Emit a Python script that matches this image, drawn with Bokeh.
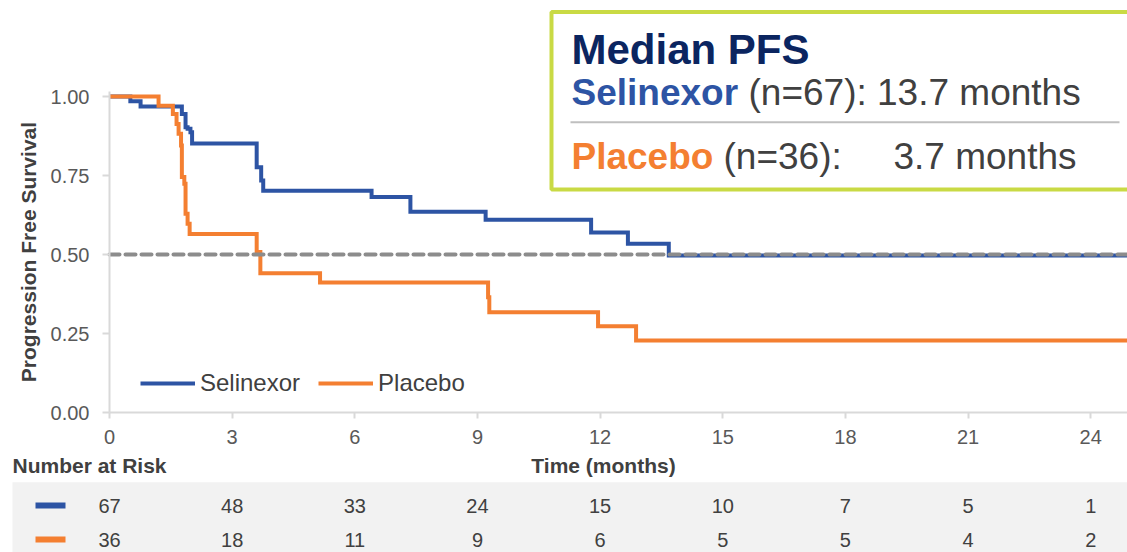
from bokeh.plotting import figure
from bokeh.models import (Range1d, FixedTicker, BoxAnnotation, Label,
                          Legend, LegendItem, CustomJSTickFormatter)
from bokeh.core.properties import value
from bokeh.embed import file_html
from bokeh.resources import INLINE

# ---------------- data ----------------
series_names = ["Selinexor", "Placebo"]
series_colors = ["#2d54a4", "#f47f31"]
n_patients = [67, 36]
median_pfs = [13.7, 3.7]

sel_time = [0, 0.51, 0.76, 1.77, 1.86, 1.91, 1.98, 2.02, 3.60, 3.71, 3.76,
            6.41, 7.36, 9.20, 11.78, 12.68, 13.68, 25.5]
sel_surv = [1.0, 0.985, 0.968, 0.945, 0.903, 0.898, 0.887, 0.851, 0.776, 0.734, 0.702,
            0.682, 0.635, 0.610, 0.570, 0.534, 0.497, 0.497]

pbo_time = [0, 1.20, 1.55, 1.64, 1.69, 1.75, 1.77, 1.83, 1.86, 1.91, 1.96,
            3.60, 3.69, 5.15, 9.26, 9.29, 11.95, 12.88, 25.5]
pbo_surv = [1.0, 0.971, 0.945, 0.913, 0.882, 0.845, 0.745, 0.724, 0.629, 0.597, 0.565,
            0.508, 0.441, 0.411, 0.365, 0.317, 0.273, 0.228, 0.228]

median_level = 0.5

risk_times = [0, 3, 6, 9, 12, 15, 18, 21, 24]
risk_sel = [67, 48, 33, 24, 15, 10, 7, 5, 1]
risk_pbo = [36, 18, 11, 9, 6, 5, 5, 4, 2]

x_ticks = [0, 3, 6, 9, 12, 15, 18, 21, 24]
y_ticks = [0.0, 0.25, 0.5, 0.75, 1.0]
y_tick_labels = ["0.00", "0.25", "0.50", "0.75", "1.00"]

# ---------------- layout constants (pixel geometry of the canvas) ----------------
FONT = "Liberation Sans"
TXT = "#404040"
AX = "#d9d9d9"
W, H = 1127, 552
X0_PX = 109            # canvas x of time 0
Y0_PX = 412            # canvas y of survival 0
X_END = 24.9
PPM = (W - X0_PX) / X_END      # pixels per month
PPU = 316.0                    # pixels per survival unit
ROW0_PX, ROW_PX = 505.0, 34.0  # number-at-risk rows


def ax_(ix):
    return (ix - X0_PX) / PPM


def ay_(iy):
    return (Y0_PX - iy) / PPU


def ry_(iy):
    return (iy - ROW0_PX) / ROW_PX


p = figure(width=W, height=H, output_backend="svg", toolbar_location=None,
           x_range=Range1d(ax_(0), ax_(W)), y_range=Range1d(ay_(H), ay_(0)),
           min_border_left=0, min_border_right=0, min_border_top=0, min_border_bottom=0)
p.extra_y_ranges = {"risk": Range1d(ry_(H), ry_(0))}
p.outline_line_color = None
p.grid.grid_line_color = None
p.background_fill_color = "white"

# ---------------- KM curves ----------------
r_sel = p.step(sel_time, sel_surv, mode="after", line_color=series_colors[0],
               line_width=4, line_join="miter")
r_pbo = p.step(pbo_time, pbo_surv, mode="after", line_color=series_colors[1],
               line_width=4, line_join="miter")
p.line(x=[0, X_END + 1], y=[median_level, median_level], line_color="#8c8c8c",
       line_width=4, line_dash="10 6", line_cap="round")

# ---------------- axes ----------------
for axis in (p.xaxis[0], p.yaxis[0]):
    axis.fixed_location = 0
    axis.axis_line_color = AX
    axis.axis_line_width = 2
    axis.major_tick_line_color = AX
    axis.major_tick_line_width = 2
    axis.major_tick_in = 0
    axis.minor_tick_line_color = None
    axis.major_label_text_font = FONT
    axis.major_label_text_font_size = "20px"
    axis.major_label_text_color = "#595959"

p.xaxis.ticker = FixedTicker(ticks=x_ticks)
p.xaxis.bounds = (0, X_END + 1)
p.xaxis.major_tick_out = 6
p.xaxis.major_label_standoff = 11

p.yaxis.ticker = FixedTicker(ticks=y_ticks)
p.yaxis.bounds = (0, 1.015)
p.yaxis.major_tick_out = 7
p.yaxis.major_label_standoff = 13
p.yaxis.formatter = CustomJSTickFormatter(args=dict(tick_vals=y_ticks, tick_labels=y_tick_labels), code="""
    const i = tick_vals.findIndex(t => Math.abs(t - tick) < 1e-9);
    return i >= 0 ? tick_labels[i] : '';
""")
p.yaxis.axis_label = "Progression Free Survival"
p.yaxis.axis_label_text_font = FONT
p.yaxis.axis_label_text_font_size = "21px"
p.yaxis.axis_label_text_font_style = "bold"
p.yaxis.axis_label_text_color = TXT
p.yaxis.axis_label_standoff = 8

legend = Legend(items=[LegendItem(label=series_names[0], renderers=[r_sel]),
                       LegendItem(label=series_names[1], renderers=[r_pbo])],
                orientation="horizontal", location=(140, H - 385 - 12),
                glyph_width=55, glyph_height=24, label_height=24,
                label_standoff=5, spacing=18, padding=0, margin=0,
                background_fill_alpha=0, border_line_alpha=0,
                label_text_font=FONT, label_text_font_size="24px",
                label_text_color=TXT)
p.add_layout(legend)

# ---------------- Median PFS box ----------------
p.add_layout(BoxAnnotation(left=ax_(551), right=ax_(W + 20), top=ay_(11.5), bottom=ay_(189),
                           fill_color="white", fill_alpha=1.0,
                           line_color="#c9da44", line_alpha=1.0, line_width=4))
p.add_layout(BoxAnnotation(left=ax_(570), right=ax_(1119), top=ay_(120.7), bottom=ay_(122.7),
                           fill_color="#bfbfbf", fill_alpha=1.0, line_color=None))


def add_text(ix, iy_base, text, size, color, bold=False):
    # iy_base: wanted canvas y of the text baseline
    shift = 0.33 * size
    p.add_layout(Label(x=ax_(ix), y=ay_(iy_base - shift), text=text, text_font=FONT,
                       text_font_size=f"{size}px", text_font_style="bold" if bold else "normal",
                       text_color=color, text_baseline="alphabetic"))


add_text(571, 62.7, "Median PFS", 42, "#0b2560", bold=True)
add_text(571, 104, series_names[0], 37, series_colors[0], bold=True)
add_text(748, 104, f"(n={n_patients[0]}): {median_pfs[0]} months", 37, TXT)
add_text(571, 168, series_names[1], 37, series_colors[1], bold=True)
add_text(723, 168, f"(n={n_patients[1]}):", 37, TXT)
add_text(893, 168, f"{median_pfs[1]} months", 37, TXT)

# ---------------- Number at risk table ----------------
p.quad(left=[ax_(12)], right=[ax_(W + 20)], top=[ry_(481.7)], bottom=[ry_(H + 20)],
       fill_color="#f2f2f2", line_color=None, y_range_name="risk")

rows = [0, 1]
p.segment(x0=[ax_(35)] * 2, x1=[ax_(65)] * 2, y0=rows, y1=rows,
          line_color=series_colors, line_width=6, line_cap="butt", y_range_name="risk")
for row, vals in zip(rows, [risk_sel, risk_pbo]):
    p.text(x=risk_times, y=[row] * len(risk_times), text=[str(v) for v in vals],
           text_align="center", text_baseline="middle", text_font=value(FONT),
           text_font_size="20px", text_color=TXT, y_range_name="risk")

p.add_layout(Label(x=ax_(12), y=ry_(465), y_range_name="risk", text="Number at Risk",
                   text_font=FONT, text_font_size="21px", text_font_style="bold",
                   text_color=TXT, text_baseline="middle"))
p.add_layout(Label(x=ax_(603), y=ry_(465), y_range_name="risk", text="Time (months)",
                   text_font=FONT, text_font_size="21px", text_font_style="bold",
                   text_color=TXT, text_baseline="middle", text_align="center"))

open("out.html", "w").write(file_html(p, INLINE))
